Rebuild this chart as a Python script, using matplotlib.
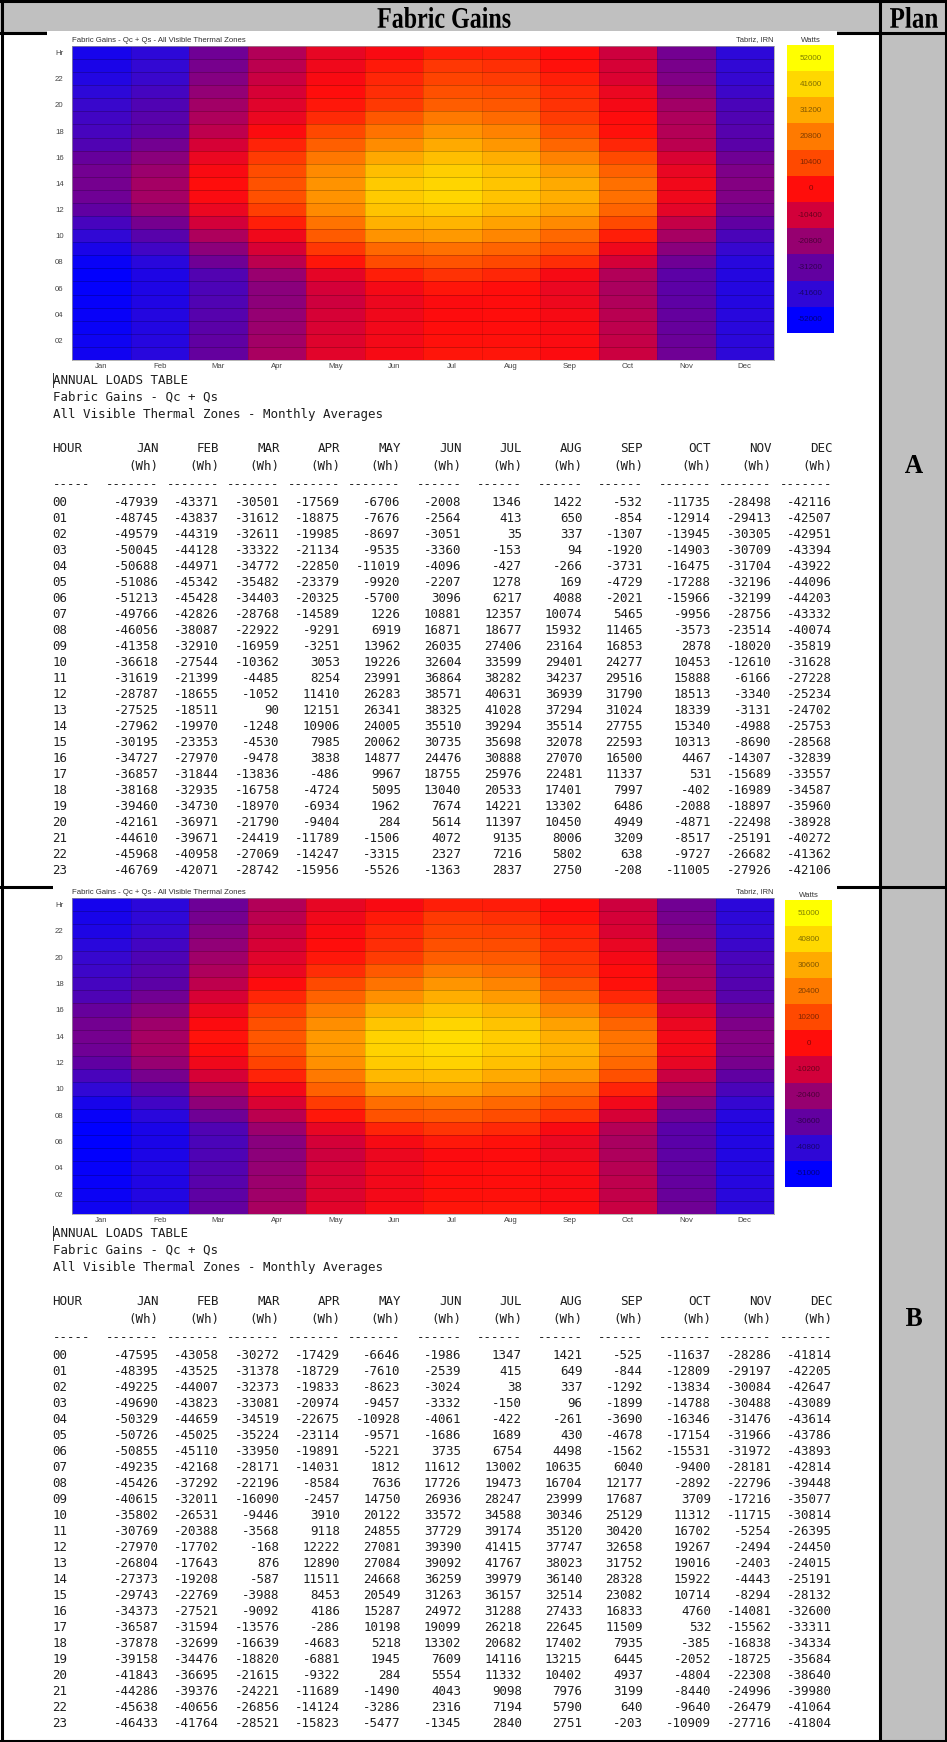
import numpy as np
import matplotlib.pyplot as plt
from matplotlib.colors import LinearSegmentedColormap, to_rgb
from matplotlib.patches import Rectangle, PathPatch
from matplotlib.textpath import TextPath
from matplotlib.font_manager import FontProperties
from matplotlib.transforms import Affine2D

W, H = 947, 1742

months = ['Jan', 'Feb', 'Mar', 'Apr', 'May', 'Jun', 'Jul', 'Aug', 'Sep', 'Oct', 'Nov', 'Dec']
month_caps = [m.upper() for m in months]
hours = ['%02d' % h for h in range(24)]

# monthly average fabric gains (Wh), rows = hour 00..23, cols = Jan..Dec
plan_a = np.array([
    [-47939, -43371, -30501, -17569, -6706, -2008, 1346, 1422, -532, -11735, -28498, -42116],
    [-48745, -43837, -31612, -18875, -7676, -2564, 413, 650, -854, -12914, -29413, -42507],
    [-49579, -44319, -32611, -19985, -8697, -3051, 35, 337, -1307, -13945, -30305, -42951],
    [-50045, -44128, -33322, -21134, -9535, -3360, -153, 94, -1920, -14903, -30709, -43394],
    [-50688, -44971, -34772, -22850, -11019, -4096, -427, -266, -3731, -16475, -31704, -43922],
    [-51086, -45342, -35482, -23379, -9920, -2207, 1278, 169, -4729, -17288, -32196, -44096],
    [-51213, -45428, -34403, -20325, -5700, 3096, 6217, 4088, -2021, -15966, -32199, -44203],
    [-49766, -42826, -28768, -14589, 1226, 10881, 12357, 10074, 5465, -9956, -28756, -43332],
    [-46056, -38087, -22922, -9291, 6919, 16871, 18677, 15932, 11465, -3573, -23514, -40074],
    [-41358, -32910, -16959, -3251, 13962, 26035, 27406, 23164, 16853, 2878, -18020, -35819],
    [-36618, -27544, -10362, 3053, 19226, 32604, 33599, 29401, 24277, 10453, -12610, -31628],
    [-31619, -21399, -4485, 8254, 23991, 36864, 38282, 34237, 29516, 15888, -6166, -27228],
    [-28787, -18655, -1052, 11410, 26283, 38571, 40631, 36939, 31790, 18513, -3340, -25234],
    [-27525, -18511, 90, 12151, 26341, 38325, 41028, 37294, 31024, 18339, -3131, -24702],
    [-27962, -19970, -1248, 10906, 24005, 35510, 39294, 35514, 27755, 15340, -4988, -25753],
    [-30195, -23353, -4530, 7985, 20062, 30735, 35698, 32078, 22593, 10313, -8690, -28568],
    [-34727, -27970, -9478, 3838, 14877, 24476, 30888, 27070, 16500, 4467, -14307, -32839],
    [-36857, -31844, -13836, -486, 9967, 18755, 25976, 22481, 11337, 531, -15689, -33557],
    [-38168, -32935, -16758, -4724, 5095, 13040, 20533, 17401, 7997, -402, -16989, -34587],
    [-39460, -34730, -18970, -6934, 1962, 7674, 14221, 13302, 6486, -2088, -18897, -35960],
    [-42161, -36971, -21790, -9404, 284, 5614, 11397, 10450, 4949, -4871, -22498, -38928],
    [-44610, -39671, -24419, -11789, -1506, 4072, 9135, 8006, 3209, -8517, -25191, -40272],
    [-45968, -40958, -27069, -14247, -3315, 2327, 7216, 5802, 638, -9727, -26682, -41362],
    [-46769, -42071, -28742, -15956, -5526, -1363, 2837, 2750, -208, -11005, -27926, -42106],
])

plan_b = np.array([
    [-47595, -43058, -30272, -17429, -6646, -1986, 1347, 1421, -525, -11637, -28286, -41814],
    [-48395, -43525, -31378, -18729, -7610, -2539, 415, 649, -844, -12809, -29197, -42205],
    [-49225, -44007, -32373, -19833, -8623, -3024, 38, 337, -1292, -13834, -30084, -42647],
    [-49690, -43823, -33081, -20974, -9457, -3332, -150, 96, -1899, -14788, -30488, -43089],
    [-50329, -44659, -34519, -22675, -10928, -4061, -422, -261, -3690, -16346, -31476, -43614],
    [-50726, -45025, -35224, -23114, -9571, -1686, 1689, 430, -4678, -17154, -31966, -43786],
    [-50855, -45110, -33950, -19891, -5221, 3735, 6754, 4498, -1562, -15531, -31972, -43893],
    [-49235, -42168, -28171, -14031, 1812, 11612, 13002, 10635, 6040, -9400, -28181, -42814],
    [-45426, -37292, -22196, -8584, 7636, 17726, 19473, 16704, 12177, -2892, -22796, -39448],
    [-40615, -32011, -16090, -2457, 14750, 26936, 28247, 23999, 17687, 3709, -17216, -35077],
    [-35802, -26531, -9446, 3910, 20122, 33572, 34588, 30346, 25129, 11312, -11715, -30814],
    [-30769, -20388, -3568, 9118, 24855, 37729, 39174, 35120, 30420, 16702, -5254, -26395],
    [-27970, -17702, -168, 12222, 27081, 39390, 41415, 37747, 32658, 19267, -2494, -24450],
    [-26804, -17643, 876, 12890, 27084, 39092, 41767, 38023, 31752, 19016, -2403, -24015],
    [-27373, -19208, -587, 11511, 24668, 36259, 39979, 36140, 28328, 15922, -4443, -25191],
    [-29743, -22769, -3988, 8453, 20549, 31263, 36157, 32514, 23082, 10714, -8294, -28132],
    [-34373, -27521, -9092, 4186, 15287, 24972, 31288, 27433, 16833, 4760, -14081, -32600],
    [-36587, -31594, -13576, -286, 10198, 19099, 26218, 22645, 11509, 532, -15562, -33311],
    [-37878, -32699, -16639, -4683, 5218, 13302, 20682, 17402, 7935, -385, -16838, -34334],
    [-39158, -34476, -18820, -6881, 1945, 7609, 14116, 13215, 6445, -2052, -18725, -35684],
    [-41843, -36695, -21615, -9322, 284, 5554, 11332, 10402, 4937, -4804, -22308, -38640],
    [-44286, -39376, -24221, -11689, -1490, 4043, 9098, 7976, 3199, -8440, -24996, -39980],
    [-45638, -40656, -26856, -14124, -3286, 2316, 7194, 5790, 640, -9640, -26479, -41064],
    [-46433, -41764, -28521, -15823, -5477, -1345, 2840, 2751, -203, -10909, -27716, -41804],
])

legend_a = [52000, 41600, 31200, 20800, 10400, 0, -10400, -20800, -31200, -41600, -52000]
legend_b = [51000, 40800, 30600, 20400, 10200, 0, -10200, -20400, -30600, -40800, -51000]
legend_colors = ['#ffff00', '#ffd800', '#ffaa00', '#ff7a00', '#ff4a00', '#ff0c0c',
                 '#d2003a', '#980070', '#6200a0', '#3008d6', '#0000ff']

mono = 'DejaVu Sans Mono'
small = 'Liberation Sans'

fig = plt.figure(figsize=(W / 100, H / 100), dpi=100)
bg = fig.add_axes([0, 0, 1, 1])
bg.set_xlim(0, W)
bg.set_ylim(H, 0)
bg.axis('off')


def rect(x0, y0, x1, y1):
    return [x0 / W, 1 - y1 / H, (x1 - x0) / W, (y1 - y0) / H]


def tall_text(s, cx, cy, w, h):
    # serif bold label squeezed into a w x h pixel box (the screenshot is stretched)
    tp = TextPath((0, 0), s, size=10, prop=FontProperties(family='Liberation Serif', weight='bold'))
    bb = tp.get_extents()
    tr = (Affine2D().translate(-(bb.x0 + bb.x1) / 2, -(bb.y0 + bb.y1) / 2)
          .scale(w / bb.width, -h / bb.height).translate(cx, cy))
    bg.add_patch(PathPatch(tr.transform_path(tp), fc='k', ec='none', zorder=5))


# table frame
bg.add_patch(Rectangle((0, 0), W, 33, fc='#c0c0c0', ec='none'))
bg.add_patch(Rectangle((880, 33), W - 880, H - 33, fc='#c0c0c0', ec='none'))
lw = 2.2
for y in [1.5, 33, 887, H - 1.5]:
    bg.plot([0, W], [y, y], color='k', lw=lw, zorder=2)
for x in [1.5, 880, W - 1.5]:
    bg.plot([x, x], [0, H], color='k', lw=lw, zorder=2)

tall_text('Fabric Gains', 444, 17.5, 133, 21)
tall_text('Plan', 914, 17.5, 48, 21)
tall_text('A', 914, 464, 18, 18)
tall_text('B', 914, 1317, 16, 18)

# white screenshot areas covering the row borders
bg.add_patch(Rectangle((47, 31), 790, 340, fc='white', ec='none', zorder=3))
bg.add_patch(Rectangle((53, 885), 784, 345, fc='white', ec='none', zorder=3))

cmap_a = LinearSegmentedColormap.from_list('eco', legend_colors[::-1])


def heatmap(data, legend, top, bottom, cb_box):
    vmax = legend[0]
    ax = fig.add_axes(rect(72, top, 774, bottom))
    ax.pcolormesh(np.arange(13), np.arange(25), data, cmap=cmap_a,
                  vmin=-vmax, vmax=vmax)
    ax.hlines(np.arange(1, 24), 0, 12, color='k', lw=0.5, alpha=0.3)
    ax.vlines(np.arange(1, 12), 0, 24, color='k', lw=0.5, alpha=0.15)
    ax.set_xlim(0, 12)
    ax.set_ylim(0, 24)
    ax.set_xticks(np.arange(12) + 0.5)
    ax.set_xticklabels(months)
    ticks = np.arange(2, 23, 2)
    ax.set_yticks(list(ticks - 0.5) + [23.5])
    ax.set_yticklabels(['%02d' % t for t in ticks] + ['Hr'])
    ax.tick_params(length=0, labelsize=5.6, colors='#444444', pad=2)
    ax.tick_params(axis='y', pad=6)
    for lab in ax.get_xticklabels() + ax.get_yticklabels():
        lab.set_family(small)
    for s in ax.spines.values():
        s.set_color('#999999')
        s.set_linewidth(0.5)

    ty = top - 6
    bg.text(72, ty, 'Fabric Gains - Qc + Qs - All Visible Thermal Zones',
            family=small, fontsize=5.6, color='#333333', va='center', zorder=4)
    bg.text(774, ty, 'Tabriz, IRN', family=small, fontsize=5.4, color='#333333',
            ha='right', va='center', zorder=4)
    x0, y0, x1, y1 = cb_box
    bg.text((x0 + x1) / 2, y0 - 5, 'Watts', family=small, fontsize=5.6,
            color='#333333', ha='center', va='center', zorder=4)

    cax = fig.add_axes(rect(*cb_box))
    vals = np.array(legend)
    cax.imshow(vals[:, None], cmap=cmap_a, vmin=-vmax, vmax=vmax, aspect='auto')
    for i, v in enumerate(vals):
        c = np.array(to_rgb(legend_colors[i])) * 0.5
        cax.text(0, i, str(v), fontsize=5.8, family=small, color=c,
                 ha='center', va='center')
    cax.axis('off')


# monospace loads table
x0 = 52.6
cw = 7.57
col_end = [14, 22, 30, 38, 46, 54, 62, 70, 78, 87, 95, 103]
dash_w = [7, 7, 7, 7, 7, 6, 6, 6, 6, 7, 7, 7]
tkw = dict(family=mono, fontsize=9.0, color='#1e1e1e', va='center', zorder=4)


def loads_table(data, y00):
    bg.plot([x0 + 0.5, x0 + 0.5], [y00 - 129, y00 - 115], color='#333333',
            lw=0.7, zorder=5)
    bg.text(x0, y00 - 122, 'ANNUAL LOADS TABLE', **tkw)
    bg.text(x0, y00 - 105, 'Fabric Gains - Qc + Qs', **tkw)
    bg.text(x0, y00 - 88, 'All Visible Thermal Zones - Monthly Averages', **tkw)
    bg.text(x0, y00 - 54, 'HOUR', **tkw)
    bg.text(x0, y00 - 17, '-----', **tkw)
    for j in range(12):
        xe = x0 + col_end[j] * cw
        bg.text(xe, y00 - 54, month_caps[j], ha='right', **tkw)
        bg.text(xe, y00 - 36, '(Wh)', ha='right', **tkw)
        bg.text(xe, y00 - 17, '-' * dash_w[j], ha='right', **tkw)
    for i, h in enumerate(hours):
        y = y00 + 16 * i
        bg.text(x0, y, h, **tkw)
        for j in range(12):
            bg.text(x0 + col_end[j] * cw, y, str(data[i, j]), ha='right', **tkw)


heatmap(plan_a, legend_a, 46, 360, (787, 45, 834, 333))
loads_table(plan_a, 502)
heatmap(plan_b, legend_b, 898, 1214, (785, 900, 832, 1187))
loads_table(plan_b, 1355)

fig.savefig('out.png', dpi=100)
